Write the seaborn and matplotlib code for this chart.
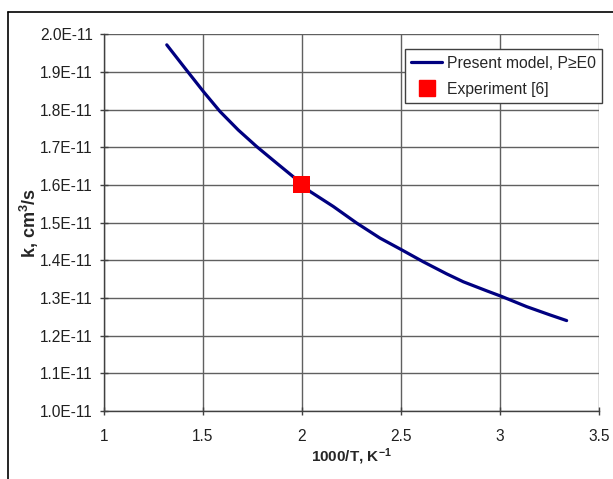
import matplotlib
matplotlib.use("Agg")
import matplotlib.pyplot as plt
import seaborn as sns
import numpy as np
import pandas as pd
from matplotlib.ticker import FuncFormatter, MultipleLocator
from matplotlib.lines import Line2D

# Data (k in units of 1E-11 cm^3/s)
inv_T = [1.317, 1.409, 1.502, 1.586, 1.678, 1.771, 1.872, 1.965, 2.040, 2.158, 2.276,
         2.394, 2.503, 2.613, 2.731, 2.815, 2.933, 3.009, 3.135, 3.253, 3.337]
k_model = [1.972, 1.910, 1.848, 1.795, 1.746, 1.702, 1.658, 1.618, 1.583, 1.543, 1.499,
           1.459, 1.428, 1.396, 1.364, 1.343, 1.319, 1.304, 1.277, 1.255, 1.240]
exp_x = [2.0]
exp_k = [1.60]
x_ticks = [1, 1.5, 2, 2.5, 3, 3.5]

sns.set_theme(style="white")
plt.rcParams['font.family'] = ['Liberation Sans', 'DejaVu Sans']
plt.rcParams['mathtext.fontset'] = 'custom'
plt.rcParams['mathtext.rm'] = 'Liberation Sans'
plt.rcParams['mathtext.bf'] = 'Liberation Sans:bold'

fig = plt.figure(figsize=(6.13, 4.79), dpi=100)
ax = fig.add_axes([0.1697, 0.142, 0.977 - 0.1697, 0.9284 - 0.142])

df = pd.DataFrame({"x": inv_T, "k": k_model})
sns.lineplot(data=df, x="x", y="k", ax=ax, color="#000080", linewidth=2.3, zorder=3)
dfe = pd.DataFrame({"x": exp_x, "k": exp_k})
sns.scatterplot(data=dfe, x="x", y="k", ax=ax, color="#ff0000", marker="s", s=150,
                edgecolor="none", zorder=4)

ax.set_xlim(1, 3.5)
ax.set_ylim(1.0, 2.0)
ax.set_xticks(x_ticks)
ax.set_xticklabels([f"{v:g}" for v in x_ticks])
ax.yaxis.set_major_locator(MultipleLocator(0.1))
ax.yaxis.set_major_formatter(FuncFormatter(lambda v, p: f"{v:.1f}E-11"))

ax.grid(True, color="#606060", linewidth=1.0)
ax.set_axisbelow(True)
for s in ["top", "right"]:
    ax.spines[s].set_visible(False)
for s in ["left", "bottom"]:
    ax.spines[s].set_color("#404040")
    ax.spines[s].set_linewidth(1.0)

ax.tick_params(axis="both", which="major", direction="inout", length=6, width=1,
               color="#404040", labelsize=11.2, labelcolor="#202020", bottom=True, left=True)
ax.tick_params(axis="x", pad=10)
ax.tick_params(axis="y", pad=5)

ax.set_xlabel(r"1000/T, K$\mathbf{^{-1}}$", fontsize=11, fontweight="bold", labelpad=2)
ax.set_ylabel(r"k, cm$\mathbf{^3}$/s", fontsize=13, fontweight="bold", labelpad=-1)

handles = [Line2D([0], [0], color="#000080", lw=2.3),
           Line2D([0], [0], color="#ff0000", marker="s", ls="none", markersize=11)]
leg = ax.legend(handles, ["Present model, P≥E0", "Experiment [6]"], loc="upper right",
                bbox_to_anchor=(1.007, 0.96), fontsize=11.3, frameon=True, fancybox=False,
                edgecolor="#404040", framealpha=1, handlelength=2.0, handletextpad=0.3,
                borderpad=0.4, labelspacing=0.7, borderaxespad=0)
leg.get_frame().set_linewidth(1.0)

# outer chart border
fig.add_artist(Line2D([8/613, 8/613], [0, 1 - 12/479], color="black", lw=1.2, transform=fig.transFigure))
fig.add_artist(Line2D([8/613, 1], [1 - 12/479, 1 - 12/479], color="black", lw=1.2, transform=fig.transFigure))

fig.savefig("out.png", dpi=100)
